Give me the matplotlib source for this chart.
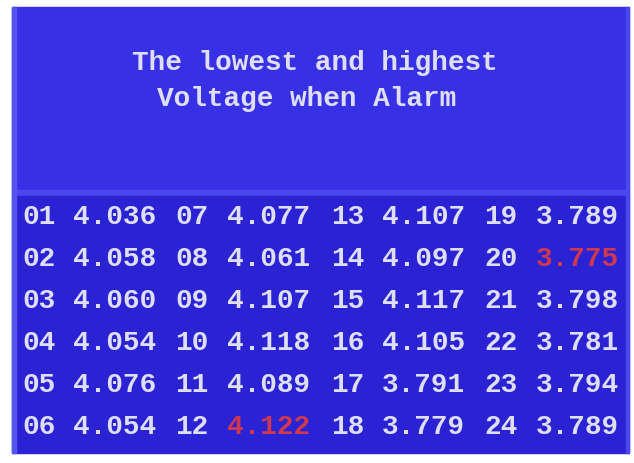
import matplotlib
matplotlib.use("Agg")
import matplotlib.pyplot as plt
from matplotlib.patches import Rectangle

title_lines = ["The lowest and highest", "Voltage when Alarm"]
cell_ids = ["01", "02", "03", "04", "05", "06", "07", "08", "09", "10", "11", "12",
            "13", "14", "15", "16", "17", "18", "19", "20", "21", "22", "23", "24"]
voltages = [4.036, 4.058, 4.060, 4.054, 4.076, 4.054,
            4.077, 4.061, 4.107, 4.118, 4.089, 4.122,
            4.107, 4.097, 4.117, 4.105, 3.791, 3.779,
            3.789, 3.775, 3.798, 3.781, 3.794, 3.789]

W, H = 634, 463
fig = plt.figure(figsize=(W / 100, H / 100), dpi=100)
fig.patch.set_facecolor("white")
ax = fig.add_axes([0, 0, 1, 1])
ax.set_xlim(0, W)
ax.set_ylim(H, 0)
ax.axis("off")

top_col = "#3830e4"
bot_col = "#2b22d4"
band_col = "#4a48ec"
txt_col = "#dedef6"
red_col = "#d03850"

# panels
ax.add_patch(Rectangle((12, 7), 617, 183, color=top_col, zorder=0))
ax.add_patch(Rectangle((12, 190), 617, 6, color=band_col, zorder=0))
ax.add_patch(Rectangle((12, 196), 617, 257, color=bot_col, zorder=0))
ax.add_patch(Rectangle((12, 7), 4, 446, color="#5654ee", zorder=1))
ax.add_patch(Rectangle((626, 7), 3, 446, color="#4a48ec", zorder=1))

font = "Liberation Mono"
title_x = [132, 157]
title_y = [63, 99]
for line, tx, ty in zip(title_lines, title_x, title_y):
    ax.text(tx, ty, line, color=txt_col, fontsize=20, fontweight="bold",
            family=font, ha="left", va="center")

vmin, vmax = min(voltages), max(voltages)
id_x = [22, 175, 331, 484]
val_x = [73, 227, 382, 536]
row_y0, row_dy = 217, 42
for k, (cid, v) in enumerate(zip(cell_ids, voltages)):
    g, r = divmod(k, 6)
    y = row_y0 + r * row_dy
    ax.text(id_x[g], y, cid, color=txt_col, fontsize=20, fontweight="bold",
            family=font, ha="left", va="center")
    c = red_col if v in (vmin, vmax) else txt_col
    ax.text(val_x[g], y, f"{v:.3f}", color=c, fontsize=20, fontweight="bold",
            family=font, ha="left", va="center")

fig.savefig("out.png", dpi=100, facecolor="white")
